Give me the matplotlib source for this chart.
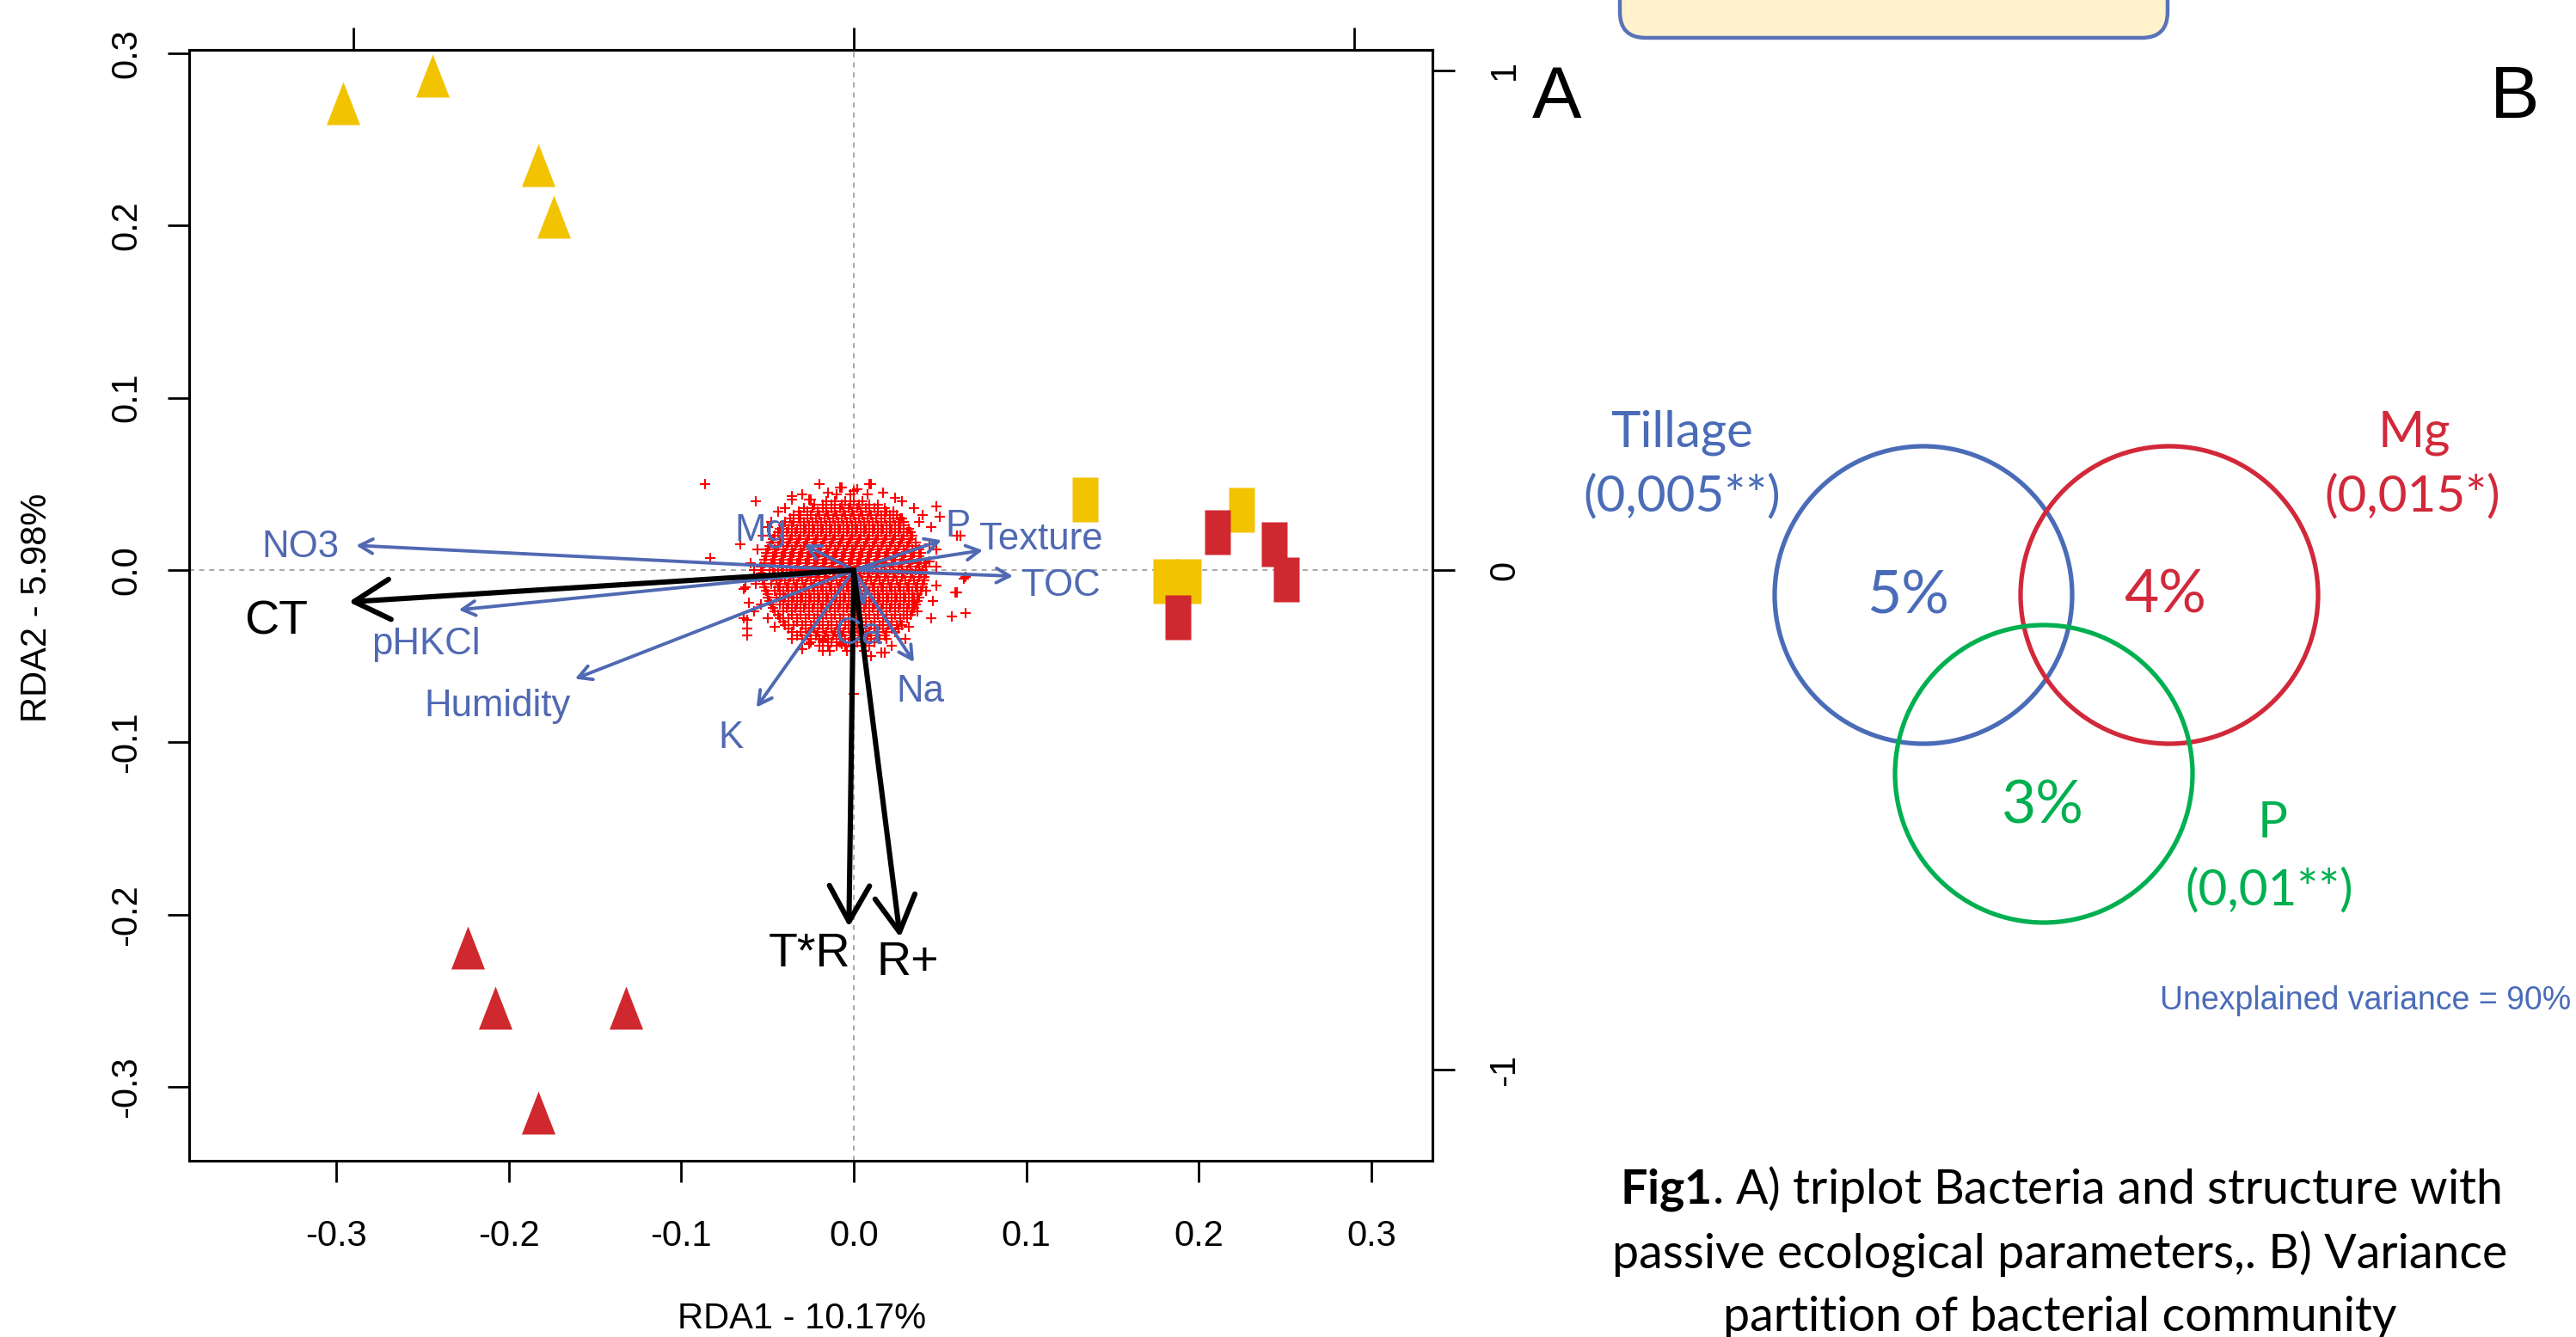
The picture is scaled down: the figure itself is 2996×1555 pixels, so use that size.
import matplotlib
matplotlib.use("Agg")
import matplotlib.pyplot as plt
from matplotlib.path import Path
from matplotlib.patches import Circle, FancyBboxPatch
import numpy as np

plt.rcParams['axes.unicode_minus'] = False
plt.rcParams['mathtext.fontset'] = 'custom'
plt.rcParams['mathtext.rm'] = 'Lato'
plt.rcParams['mathtext.bf'] = 'Lato:bold'

R_FONT = 'Liberation Sans'
PPT_FONT = 'Lato'

# ------------------------------------------------------------------ data
xlabel = "RDA1 - 10.17%"
ylabel = "RDA2 - 5.98%"
x_ticks = [-0.3, -0.2, -0.1, 0.0, 0.1, 0.2, 0.3]
x_ticklabels = ["-0.3", "-0.2", "-0.1", "0.0", "0.1", "0.2", "0.3"]
y_ticks = [-0.3, -0.2, -0.1, 0.0, 0.1, 0.2, 0.3]
y_ticklabels = ["-0.3", "-0.2", "-0.1", "0.0", "0.1", "0.2", "0.3"]
sec_ticks = [-1, 0, 1]
sec_ticklabels = ["-1", "0", "1"]
sec_scale = 0.29  # one unit of the top/right scale in RDA units

# sites
yellow_tri_x = [-0.296, -0.244, -0.183, -0.174]
yellow_tri_y = [0.271, 0.287, 0.235, 0.205]
red_tri_x = [-0.224, -0.208, -0.132, -0.183]
red_tri_y = [-0.219, -0.254, -0.254, -0.315]
yellow_sq_x = [0.134, 0.181, 0.194, 0.225]
yellow_sq_y = [0.041, -0.0065, -0.0065, 0.035]
red_sq_x = [0.211, 0.244, 0.251, 0.188]
red_sq_y = [0.022, 0.015, -0.0055, -0.0275]

# passive environmental vectors (tips) and label positions
env_names = ["NO3", "pHKCl", "Humidity", "K", "Mg", "P", "Texture", "TOC", "Ca", "Na"]
env_x = [-0.2885, -0.229, -0.1616, -0.0564, -0.0286, 0.0509, 0.0748, 0.0923, 0.0063, 0.0349]
env_y = [0.0143, -0.0231, -0.0631, -0.0797, 0.0148, 0.0173, 0.0115, -0.0035, -0.021, -0.0534]
env_lab_x = [-0.321, -0.248, -0.2066, -0.0714, -0.054, 0.0603, 0.1088, 0.1201, 0.0031, 0.0388]
env_lab_y = [0.0130, -0.0430, -0.0792, -0.0974, 0.0225, 0.0250, 0.0178, -0.0092, -0.0370, -0.0706]

# constraining factors
con_names = ["CT", "T*R", "R+"]
con_x = [-0.2928, -0.0028, 0.0269]
con_y = [-0.0185, -0.2071, -0.2132]
con_lab_x = [-0.335, -0.0257, 0.0314]
con_lab_y = [-0.0301, -0.2230, -0.2282]

# species scores (thousandths of RDA units): dense core, row by row
sp_row_y = [44, 40, 38, 36, 34, 32, 30, 28, 26, 24, 22, 20, 18, 16, 14, 12, 10, 8, 6, 4, 2, 0,
            -2, -4, -6, -8, -10, -12, -14, -16, -18, -20, -22, -24, -26, -28, -30, -32,
            -34, -36, -38, -40, -42, -44, -47]
sp_row_x = [
    [-10, -2, 8],
    [-16, -11, -5, 0, 5],
    [-23, -18, -13, -7, -2, 3, 9, 14],
    [-29, -24, -18, -13, -8, -3, 2, 7, 12, 18],
    [-32, -27, -21, -16, -11, -6, -1, 4, 9, 14, 19, 23],
    [-35, -31, -25, -20, -15, -10, -5, 0, 5, 10, 16, 21, 25],
    [-37, -32, -27, -22, -17, -12, -7, -2, 3, 8, 13, 18, 23, 27],
    [-40, -35, -29, -24, -19, -14, -9, -4, 1, 6, 11, 16, 21, 26, 29],
    [-41, -36, -31, -26, -21, -16, -11, -6, -1, 4, 9, 14, 19, 24, 29],
    [-43, -38, -33, -28, -23, -18, -13, -8, -3, 2, 7, 12, 17, 22, 27, 32],
    [-44, -39, -34, -29, -24, -19, -14, -9, -4, 1, 6, 11, 16, 21, 26, 31],
    [-46, -41, -36, -31, -26, -21, -16, -11, -6, -1, 4, 9, 14, 19, 24, 29, 34],
    [-47, -42, -37, -32, -27, -22, -17, -12, -7, -2, 3, 8, 13, 18, 23, 28, 33],
    [-48, -43, -38, -33, -28, -23, -18, -13, -8, -3, 2, 7, 12, 17, 22, 27, 32, 36],
    [-49, -44, -39, -34, -29, -24, -19, -14, -9, -4, 1, 6, 11, 16, 21, 26, 31, 36],
    [-50, -46, -41, -36, -31, -26, -21, -16, -11, -6, -1, 4, 9, 14, 19, 24, 29, 34, 38],
    [-51, -45, -40, -35, -30, -25, -20, -15, -10, -5, 0, 5, 10, 15, 20, 25, 30, 35, 39],
    [-51, -47, -42, -37, -32, -27, -22, -17, -12, -7, -2, 3, 8, 13, 18, 23, 28, 33, 38],
    [-52, -46, -41, -36, -31, -26, -21, -16, -11, -6, -1, 4, 9, 14, 19, 24, 29, 34, 39],
    [-52, -48, -43, -38, -33, -28, -23, -18, -13, -8, -3, 2, 7, 12, 17, 22, 27, 32, 37, 41],
    [-54, -47, -42, -37, -32, -27, -22, -17, -12, -7, -2, 3, 8, 13, 18, 23, 28, 33, 38, 42],
    [-53, -49, -44, -39, -34, -29, -24, -19, -14, -9, -4, 1, 6, 11, 16, 21, 26, 31, 36, 40],
    [-54, -46, -41, -36, -31, -26, -21, -16, -11, -6, -1, 4, 9, 14, 19, 24, 29, 34, 39, 42],
    [-52, -47, -42, -37, -32, -27, -22, -17, -12, -7, -2, 3, 8, 13, 18, 23, 28, 33, 38, 41],
    [-53, -45, -40, -35, -30, -25, -20, -15, -10, -5, 0, 5, 10, 15, 20, 25, 30, 35, 41],
    [-52, -48, -43, -38, -33, -28, -23, -18, -13, -8, -3, 2, 7, 12, 17, 22, 27, 32, 37, 40],
    [-52, -44, -39, -34, -29, -24, -19, -14, -9, -4, 1, 6, 11, 16, 21, 26, 31, 36, 40],
    [-51, -46, -41, -36, -31, -26, -21, -16, -11, -6, -1, 4, 9, 14, 19, 24, 29, 34, 39],
    [-50, -43, -38, -33, -28, -23, -18, -13, -8, -3, 2, 7, 12, 17, 22, 27, 32, 37],
    [-50, -45, -40, -35, -30, -25, -20, -15, -10, -5, 0, 5, 10, 15, 20, 25, 30, 35, 38],
    [-49, -41, -36, -31, -26, -21, -16, -11, -6, -1, 4, 9, 14, 19, 24, 29, 34, 37],
    [-48, -43, -38, -33, -28, -23, -18, -13, -8, -3, 2, 7, 12, 17, 22, 27, 32, 36],
    [-47, -39, -34, -29, -24, -19, -14, -9, -4, 1, 6, 11, 16, 21, 26, 31, 35],
    [-46, -41, -36, -31, -26, -21, -16, -11, -6, -1, 4, 9, 14, 19, 24, 29, 34],
    [-44, -36, -31, -26, -21, -16, -11, -6, -1, 4, 9, 14, 19, 24, 29, 33],
    [-43, -38, -33, -28, -23, -18, -13, -8, -3, 2, 7, 12, 17, 22, 27, 31],
    [-41, -33, -28, -23, -18, -13, -8, -3, 2, 7, 12, 17, 22, 27],
    [-40, -35, -30, -25, -20, -15, -10, -5, 0, 5, 10, 15, 20, 25, 28],
    [-38, -28, -23, -18, -13, -8, -3, 2, 7, 12, 17, 22, 26],
    [-36, -31, -26, -21, -16, -11, -6, -1, 4, 9, 14, 19, 24],
    [-33, -27, -22, -17, -12, -7, -2, 3, 8, 13, 18],
    [-30, -25, -20, -15, -10, -5, 0, 5, 10, 15, 19],
    [-25, -18, -13, -8, -3, 2, 7, 12],
    [-20, -15, -10, -5, 0, 5, 9],
    [-14, -4, 6],
]
sp_out_x = [-86, -57, -36, -25, -7, 2, 10, 17, 28, 48, 50, 62, 48, 65, 48, 60, 57, 65,
            -61, -62, -62, -63, 18, -26, -18, -83, -64, -64, 0, 60, 59, 64, 16, -62,
            -66, -15, -8, 0, 9, 17, -36, -26, 30, 32, 37, 42, 28, 33, -55, -58, -46,
            -36, -26, -18, -7, -40, 44, 46, -60, -48, 38,
            -50, -53, -56, -58, -57, -54, -50, 44, 45, 40, 35, 24, -30, -44, 22, 10,
            -30, 45, 48, -20]
sp_out_y = [50, 40, 43, 41, 48, 47, 50, 45, 40, 37, 31, 20, 12, -4, -9, -13, -27, -25,
            -19, -29, -38, -10, -48, -43, -41, 7, -11, -28, -72, 20, -13, -5, -48, -34,
            15, 45, 48, 46, 50, 45, 41, 41, -40, -33, -24, -12, 30, 22, -4, -24, -33,
            -40, -43, -47, -43, 36, 5, -18, 4, 28, 28,
            25, 20, 12, 0, -8, -20, -28, 15, 25, 32, 36, 42, 44, 34, -44, -50,
            -46, -28, 2, 50]

# variance partitioning
venn_sets = ["Tillage", "Mg", "P"]
venn_pvalues = ["(0,005**)", "(0,015*)", "(0,01**)"]
venn_percent = ["5%", "4%", "3%"]
unexplained = "Unexplained variance = 90%"
caption = [r"$\mathbf{Fig1}$. A) triplot Bacteria and structure with",
           "passive ecological parameters,. B) Variance",
           "partition of bacterial community"]

# ------------------------------------------------------------------ style
YELLOW = "#F2C300"
RED_SITE = "#D0282F"
BLUE = "#5069B2"
V_BLUE = "#4A6CB8"
V_RED = "#D1293A"
V_GREEN = "#00B050"

W, H = 2996, 1555
fig = plt.figure(figsize=(W / 100, H / 100), dpi=100)

# overlay in pixel coordinates for the right-hand panel
ov = fig.add_axes([0, 0, 1, 1])
ov.set_xlim(0, W)
ov.set_ylim(H, 0)
ov.axis('off')

# ------------------------------------------------------------------ triplot
ax = fig.add_axes([220 / W, 1 - 1350 / H, (1666 - 220) / W, (1350 - 58) / H])
ax.set_xlim(-0.3853, 0.3355)
ax.set_ylim(-0.3428, 0.3019)
ax.set_facecolor('none')

ax.set_xticks(x_ticks)
ax.set_xticklabels(x_ticklabels, fontsize=30, family=R_FONT)
ax.set_yticks(y_ticks)
ax.set_yticklabels(y_ticklabels, fontsize=30, family=R_FONT, rotation=90, va='center')
ax.tick_params(axis='x', length=18, width=2, direction='out', pad=31)
ax.tick_params(axis='y', length=18, width=2, direction='out', pad=20)
for sp in ax.spines.values():
    sp.set_linewidth(2.2)

secx = ax.secondary_xaxis('top', functions=(lambda v: v / sec_scale, lambda v: v * sec_scale))
secx.set_xticks(sec_ticks)
secx.set_xticklabels([])
secx.tick_params(length=19, width=2, direction='out')
secx.spines['top'].set_linewidth(2.2)
secy = ax.secondary_yaxis('right', functions=(lambda v: v / sec_scale, lambda v: v * sec_scale))
secy.set_yticks(sec_ticks)
secy.set_yticklabels(sec_ticklabels, fontsize=30, family=R_FONT, rotation=90, va='center')
secy.tick_params(length=19, width=2, direction='out', pad=27)
secy.spines['right'].set_linewidth(2.2)

ax.axhline(0, color='#A8A8A8', lw=1.4, ls=(0, (3, 3)), zorder=0.5)
ax.axvline(0, color='#A8A8A8', lw=1.4, ls=(0, (3, 3)), zorder=0.5)

# species
sx = np.concatenate([np.array(r, float) for r in sp_row_x] + [np.array(sp_out_x, float)]) / 1000
sy = np.concatenate([np.full(len(r), yv, float) for r, yv in zip(sp_row_x, sp_row_y)]
                    + [np.array(sp_out_y, float)]) / 1000
ax.plot(sx, sy, ls='none', marker='+', ms=8, mew=1.5, color='#FF0000', zorder=2)

# sites
tri = Path([(0, 0.5), (0.39, -0.5), (-0.39, -0.5), (0, 0.5)],
           [Path.MOVETO, Path.LINETO, Path.LINETO, Path.CLOSEPOLY])
rect = Path([(-0.285, -0.5), (0.285, -0.5), (0.285, 0.5), (-0.285, 0.5), (-0.285, -0.5)],
            [Path.MOVETO, Path.LINETO, Path.LINETO, Path.LINETO, Path.CLOSEPOLY])
ax.plot(yellow_tri_x, yellow_tri_y, ls='none', marker=tri, ms=36, mfc=YELLOW, mec='none', zorder=3)
ax.plot(red_tri_x, red_tri_y, ls='none', marker=tri, ms=36, mfc=RED_SITE, mec='none', zorder=3)
ax.plot(yellow_sq_x, yellow_sq_y, ls='none', marker=rect, ms=38, mfc=YELLOW, mec='none', zorder=3)
ax.plot(red_sq_x, red_sq_y, ls='none', marker=rect, ms=38, mfc=RED_SITE, mec='none', zorder=3.1)

# environmental arrows
for name, tx, ty, lx, ly in zip(env_names, env_x, env_y, env_lab_x, env_lab_y):
    ax.annotate('', xy=(tx, ty), xytext=(0, 0),
                arrowprops=dict(arrowstyle='->,head_length=0.55,head_width=0.3', lw=2.8,
                                color=BLUE, shrinkA=0, shrinkB=0, mutation_scale=20),
                zorder=4)
    ax.text(lx, ly, name, color=BLUE, fontsize=31.5, family=R_FONT, ha='center', va='center', zorder=6)

# constraint arrows
for name, tx, ty, lx, ly in zip(con_names, con_x, con_y, con_lab_x, con_lab_y):
    ax.annotate('', xy=(tx, ty), xytext=(0, 0),
                arrowprops=dict(arrowstyle='->,head_length=0.75,head_width=0.42', lw=4.4,
                                color='black', shrinkA=0, shrinkB=0, mutation_scale=40),
                zorder=5)
    ax.text(lx, ly, name, color='black', fontsize=40, family=R_FONT, ha='center', va='center', zorder=6)

fig.text(933 / W, 1 - 1534 / H, xlabel, fontsize=30, family=R_FONT, ha='center', va='center')
fig.text(43 / W, 1 - 707 / H, ylabel, fontsize=30, family=R_FONT, ha='center', va='center', rotation=90)

# ------------------------------------------------------------------ right panel
ov.add_patch(FancyBboxPatch((1884, -60), 2521 - 1884, 60 + 44,
                            boxstyle='round,pad=0,rounding_size=30',
                            fc='#FFF2CC', ec='#5A72B8', lw=3.2))
ov.text(1811, 115, "A", fontsize=62, family=R_FONT, ha='center', va='center')
ov.text(2925, 115, "B", fontsize=62, family=R_FONT, ha='center', va='center')

venn_colors = [V_BLUE, V_RED, V_GREEN]
venn_centres = [(2237, 692), (2523, 692), (2377, 900)]
venn_name_pos = [(1956, 503), (2808, 503), (2643, 957)]
venn_p_pos = [(1956, 578), (2806, 578), (2639, 1036)]
venn_pct_pos = [(2219, 694), (2518, 693), (2376, 938)]
for c, (cx, cy), (nx, ny), (px, py), (qx, qy), nm, pv, pc in zip(
        venn_colors, venn_centres, venn_name_pos, venn_p_pos, venn_pct_pos,
        venn_sets, venn_pvalues, venn_percent):
    ov.add_patch(Circle((cx, cy), 173, fill=False, ec=c, lw=3.8))
    ov.text(nx, ny, nm, color=c, fontsize=42, family=PPT_FONT, ha='center', va='center')
    ov.text(px, py, pv, color=c, fontsize=42, family=PPT_FONT, ha='center', va='center')
    ov.text(qx, qy, pc, color=c, fontsize=50, family=PPT_FONT, ha='center', va='center')

ov.text(2512, 1164, unexplained, color=V_BLUE, fontsize=27, family=R_FONT, ha='left', va='center')

for line, yb in zip(caption, [1400, 1475, 1548]):
    ov.text(2396, yb, line, fontsize=40, family=PPT_FONT, ha='center', va='baseline')

fig.savefig("out.png", dpi=100)
